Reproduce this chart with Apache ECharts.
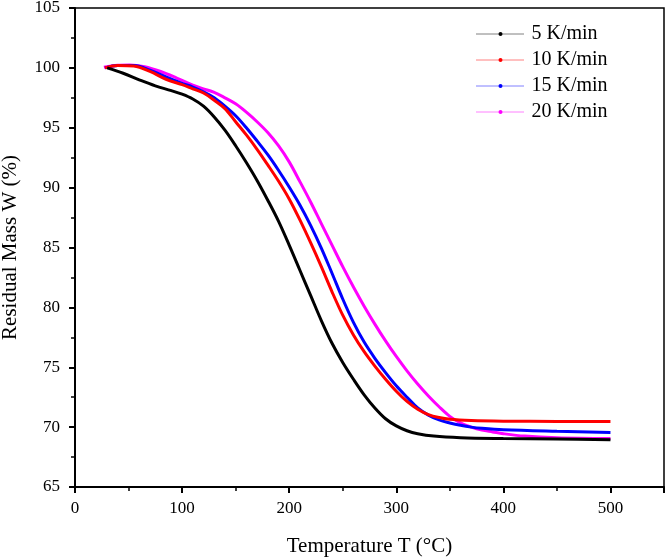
<!DOCTYPE html>
<html>
<head>
<meta charset="utf-8">
<script src="https://cdn.jsdelivr.net/npm/echarts@6/dist/echarts.min.js"></script>
<style>html,body{margin:0;padding:0;background:#fff}#c{width:666px;height:557px}</style>
</head>
<body>
<div id="c"></div>
<script>
const seriesNames = ['5 K/min', '10 K/min', '15 K/min', '20 K/min'];
const seriesColors = ['#000000', '#ff0000', '#0000ff', '#ff00ff'];

const tBlack = [30,45,60,75,90,100,110,120,130,140,150,160,170,180,190,200,210,220,230,240,250,260,270,280,290,300,310,320,335,360,400,450,500];
const wBlack = [100.0,99.55,99.0,98.5,98.1,97.8,97.4,96.8,95.9,94.8,93.5,92.1,90.6,88.95,87.2,85.2,83.1,81.0,78.9,77.0,75.4,74.0,72.7,71.6,70.7,70.1,69.7,69.45,69.25,69.12,69.05,69.0,68.95];

const tRed = [28,40,55,70,85,100,110,120,130,140,150,160,170,180,190,200,210,220,230,240,250,260,270,280,290,300,310,320,330,340,350,370,400,450,500];
const wRed = [100.0,100.2,100.15,99.7,99.05,98.6,98.25,97.9,97.3,96.6,95.5,94.4,93.2,91.9,90.55,89.05,87.3,85.4,83.4,81.3,79.35,77.7,76.3,75.1,74.0,73.0,72.15,71.5,71.05,70.8,70.65,70.55,70.5,70.48,70.48];

const tBlue = [28,40,55,70,90,100,110,120,130,140,150,160,170,180,190,200,210,220,230,240,250,260,270,280,290,300,310,320,330,340,350,360,370,380,400,450,500];
const wBlue = [100.0,100.2,100.2,99.8,99.05,98.7,98.4,98.0,97.5,96.8,96.0,95.0,93.9,92.75,91.45,90.05,88.55,86.85,84.95,82.85,80.7,78.75,77.1,75.75,74.55,73.45,72.5,71.6,71.0,70.6,70.35,70.15,70.0,69.9,69.78,69.65,69.55];

const tMag = [27,40,51,65,80,95,110,120,130,140,150,160,170,180,190,200,210,220,230,240,250,260,270,280,290,300,310,320,330,340,350,360,370,380,390,400,420,450,500];
const wMag = [100.05,100.22,100.25,100.1,99.7,99.15,98.55,98.25,97.95,97.5,97.0,96.3,95.5,94.6,93.5,92.15,90.5,88.8,87.0,85.2,83.4,81.7,80.1,78.6,77.2,75.9,74.7,73.6,72.6,71.7,70.9,70.35,70.0,69.75,69.6,69.45,69.25,69.12,69.05];

const xTicks = [0,100,200,300,400,500];
const yTicks = [65,70,75,80,85,90,95,100,105];

const temps = [tBlack, tRed, tBlue, tMag];
const weights = [wBlack, wRed, wBlue, wMag];

const FONT = "'Liberation Serif','Times New Roman',serif";
const chart = echarts.init(document.getElementById('c'), null, {renderer: 'canvas'});

const series = seriesNames.map((n, i) => ({
  name: n,
  type: 'line',
  smooth: 0.35,
  showSymbol: false,
  symbol: 'circle',
  symbolSize: 4,
  color: seriesColors[i],
  lineStyle: {width: 3, color: seriesColors[i]},
  data: temps[i].map((t, j) => [t, weights[i][j]]),
  z: 10 - i
}));

chart.setOption({
  animation: false,
  backgroundColor: '#fff',
  grid: {left: 75, right: 2, top: 8, bottom: 70, outerBoundsMode: 'none', containLabel: false,
    show: true, borderColor: '#000', borderWidth: 1.5, backgroundColor: 'transparent'},
  legend: {
    orient: 'vertical',
    left: 471,
    top: 19,
    itemGap: 6,
    itemWidth: 48,
    itemHeight: 5,
    textStyle: {fontFamily: FONT, fontSize: 20, color: '#000', padding: [0, 0, 0, 2]},
    lineStyle: {type: 'dotted', width: 1},
    data: seriesNames
  },
  xAxis: {
    type: 'value',
    min: 0, max: 550, interval: 100,
    name: 'Temperature T (\u00B0C)',
    nameLocation: 'middle',
    nameGap: 49,
    nameTextStyle: {fontFamily: FONT, fontSize: 21, color: '#000'},
    axisLine: {show: true, onZero: false, lineStyle: {color: '#000', width: 2}},
    axisTick: {show: true, inside: false, length: 6, lineStyle: {color: '#000', width: 2}},
    minorTick: {show: true, splitNumber: 2, length: 4, lineStyle: {color: '#000', width: 1.5}},
    axisLabel: {fontFamily: FONT, fontSize: 17, color: '#000', margin: 13,
      formatter: v => xTicks.includes(v) ? String(v) : ''},
    splitLine: {show: false}
  },
  yAxis: {
    type: 'value',
    min: 65, max: 105, interval: 5,
    name: 'Residual Mass W (%)',
    nameLocation: 'middle',
    nameGap: 54,
    nameTextStyle: {fontFamily: FONT, fontSize: 21, color: '#000'},
    axisLine: {show: true, onZero: false, lineStyle: {color: '#000', width: 2}},
    axisTick: {show: true, inside: false, length: 6, lineStyle: {color: '#000', width: 2}},
    minorTick: {show: true, splitNumber: 2, length: 4, lineStyle: {color: '#000', width: 1.5}},
    axisLabel: {fontFamily: FONT, fontSize: 17, color: '#000', margin: 15,
      formatter: v => yTicks.includes(v) ? String(v) : ''},
    splitLine: {show: false}
  },
  series: series
});
</script>
</body>
</html>
